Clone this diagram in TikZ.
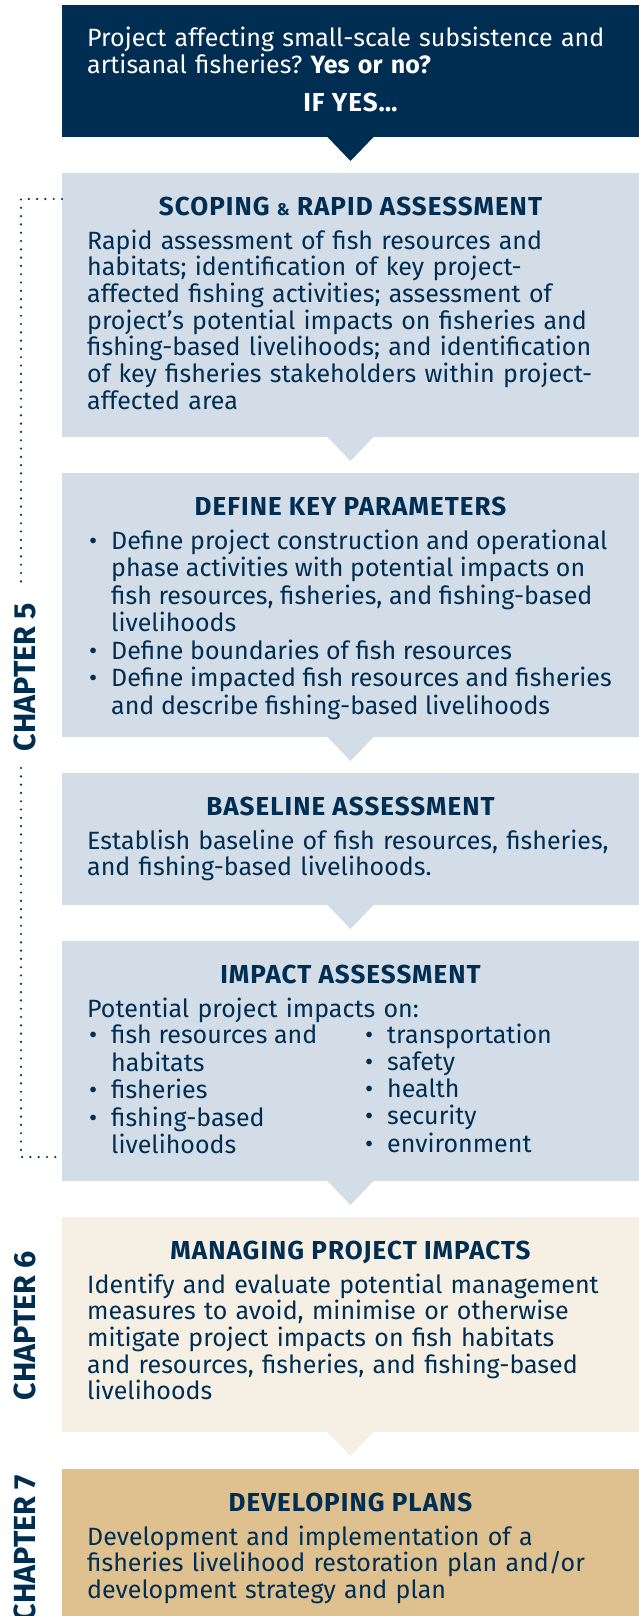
\documentclass[tikz,border=0pt]{standalone}
\usepackage{fontspec}
\setmainfont{Fira Sans}
\definecolor{navy}{RGB}{0,45,82}
\definecolor{lightblue}{RGB}{211,221,231}
\definecolor{cream}{RGB}{245,239,228}
\definecolor{tanbox}{RGB}{223,193,143}
\newcommand\bodyfont{\fontsize{25}{26.7}\selectfont}
\newcommand\titlefont{\fontsize{26}{27}\selectfont\bfseries\addfontfeatures{LetterSpace=4}}
\newcommand\chapfont{\fontsize{30.5}{31}\selectfont\bfseries}
\newcommand\bul{\hspace{2pt}\textbullet}
\newenvironment{blist}{\renewcommand\arraystretch{1}\setlength\tabcolsep{0pt}\begin{tabular}[t]{@{}p{24pt}@{}l@{}}}{\end{tabular}}
\begin{document}
\begin{tikzpicture}[x=1pt,y=-1pt,
  box/.style={rectangle, inner sep=0pt, outer sep=0pt, minimum width=577pt, anchor=north west},
  txt/.style={anchor=base west, inner sep=0pt, text width=548pt, align=left, font=\bodyfont, text=navy},
  lst/.style={anchor=base west, inner sep=0pt, font=\bodyfont, text=navy},
  ttl/.style={anchor=base, inner sep=0pt, font=\titlefont, text=navy},
  chap/.style={anchor=base, rotate=90, inner sep=0pt, font=\chapfont, text=navy},
  dots/.style={navy, line width=2.4pt, line cap=round, dash pattern=on 0pt off 8.3pt}]
\useasboundingbox (0,0) rectangle (639,1616);

% boxes
\node[box, fill=navy, minimum height=132pt] (q) at (62,5) {};
\node[box, fill=lightblue, minimum height=264pt] (scope) at (62,173) {};
\node[box, fill=lightblue, minimum height=264pt] (param) at (62,473) {};
\node[box, fill=lightblue, minimum height=132pt] (base) at (62,773) {};
\node[box, fill=lightblue, minimum height=240pt] (impact) at (62,941) {};
\node[box, fill=cream, minimum height=215pt] (manage) at (62,1217) {};
\node[box, fill=tanbox, minimum height=155pt] (plans) at (62,1469) {};

% pointers
\fill[navy] ([yshift=0.5pt]q.south) ++(-23.5,0) -- ++(47,0) -- ++(-23.5,24.5) -- cycle;
\fill[lightblue] ([yshift=0.5pt]scope.south) ++(-23.5,0) -- ++(47,0) -- ++(-23.5,24.5) -- cycle;
\fill[lightblue] ([yshift=0.5pt]param.south) ++(-23.5,0) -- ++(47,0) -- ++(-23.5,24.5) -- cycle;
\fill[lightblue] ([yshift=0.5pt]base.south) ++(-23.5,0) -- ++(47,0) -- ++(-23.5,24.5) -- cycle;
\fill[lightblue] ([yshift=0.5pt]impact.south) ++(-23.5,0) -- ++(47,0) -- ++(-23.5,24.5) -- cycle;
\fill[cream] ([yshift=0.5pt]manage.south) ++(-23.5,0) -- ++(47,0) -- ++(-23.5,24.5) -- cycle;

% question box
\node[txt, text=white] (qtxt) at (87,46.7) {Project affecting small-scale subsistence and\\artisanal fisheries?\ \textbf{Yes or no?}};
\node[ttl, text=white] (ifyes) at (350.5,111.7) {IF YES…};

% scoping
\node[ttl] (scopet) at (350.5,215) {SCOPING {\fontsize{17}{17}\selectfont\&} RAPID ASSESSMENT};
\node[txt] (scopeb) at (87,249) {Rapid assessment of fish resources and\\habitats; identification of key project-\\affected fishing activities; assessment of\\project’s potential impacts on fisheries and\\fishing-based livelihoods; and identification\\of key fisheries stakeholders within project-\\affected area};

% parameters
\node[ttl] (paramt) at (350.5,515) {DEFINE KEY PARAMETERS};
\node[lst] (paramb) at (87,549.3) {\begin{blist}
\bul & Define project construction and operational\\
 & phase activities with potential impacts on\\
 & fish resources, fisheries, and fishing-based\\
 & livelihoods\\
\bul & Define boundaries of fish resources\\
\bul & Define impacted fish resources and fisheries\\
 & and describe fishing-based livelihoods
\end{blist}};

% baseline
\node[ttl] (baset) at (350.5,815) {BASELINE ASSESSMENT};
\node[txt] (baseb) at (87,849) {Establish baseline of fish resources, fisheries,\\and fishing-based livelihoods.};

% impact
\node[ttl] (impactt) at (350.5,983) {IMPACT ASSESSMENT};
\node[txt] (impacti) at (87,1017) {Potential project impacts on:};
\node[lst] (impactl) at (87,1043.5) {\begin{blist}
\bul & fish resources and\\
 & habitats\\
\bul & fisheries\\
\bul & fishing-based\\
 & livelihoods
\end{blist}};
\node[lst] (impactr) at (363,1043.5) {\begin{blist}
\bul & transportation\\
\bul & safety\\
\bul & health\\
\bul & security\\
\bul & environment
\end{blist}};

% managing
\node[ttl] (managet) at (350.5,1259) {MANAGING PROJECT IMPACTS};
\node[txt] (manageb) at (87,1293) {Identify and evaluate potential management\\measures to avoid, minimise or otherwise\\mitigate project impacts on fish habitats\\and resources, fisheries, and fishing-based\\livelihoods};

% plans
\node[ttl] (planst) at (350.5,1511) {DEVELOPING PLANS};
\node[txt] (plansb) at (87,1545) {Development and implementation of a\\fisheries livelihood restoration plan and/or\\development strategy and plan};

% chapter labels
\node[chap] (ch5) at (35,677) {CHAPTER 5};
\node[chap] (ch6) at (35,1325.5) {CHAPTER 6};
\node[chap] (ch7) at (35,1548) {CHAPTER 7};

% dotted bracket
\coordinate (d1) at (scope.west |- 0,199);
\coordinate (d2) at (21,199);
\coordinate (d3) at (21,587);
\coordinate (d4) at (21,768);
\coordinate (d5) at (21,1157);
\coordinate (d6) at (impact.west |- 0,1157);
\draw[dots] (d1) -- (d2) -- (d3);
\draw[dots] (d4) -- (d5) -- (d6);
\end{tikzpicture}
\end{document}
